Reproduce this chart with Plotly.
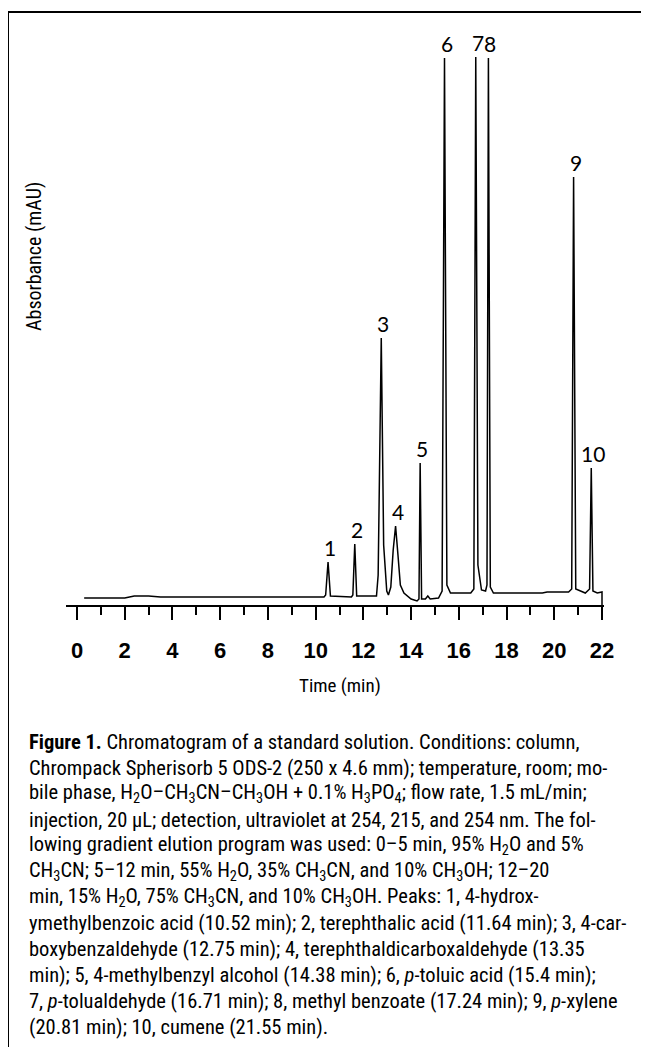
import plotly.graph_objects as go

# ---------------- data ----------------
# chromatogram trace: retention time (min) and detector signal (arbitrary mAU units)
time_min = [0.3, 2.0, 2.4, 3.0, 3.5, 6.0, 10.35,
            10.42, 10.52, 10.62, 11.5,
            11.56, 11.64, 11.72, 12.55,
            12.62, 12.75, 12.85, 12.98, 13.05,
            13.15, 13.25, 13.35, 13.45, 13.55, 13.7, 13.85, 14.0, 14.25,
            14.33, 14.38, 14.44, 14.6, 14.7, 14.8, 15.15,
            15.3, 15.4, 15.5, 15.65, 16.5,
            16.63, 16.71, 16.8, 16.95, 17.12,
            17.18, 17.24, 17.32, 17.45, 19.5, 19.7, 20.6,
            20.73, 20.81, 20.9, 21.3,
            21.48, 21.55, 21.62, 21.8, 22.0, 22.0]
absorbance = [7, 7, 9, 9, 8, 8, 8,
              10, 43, 9, 8,
              10, 61, 9, 9,
              30, 267, 60, 14, 10,
              18, 55, 79, 50, 20, 12, 9, 6, 4,
              6, 142, 6, 6, 9, 6, 7,
              14, 547, 20, 12, 12,
              16, 548, 40, 15, 14,
              20, 547, 18, 12, 12, 13, 13,
              16, 428, 16, 12,
              16, 137, 14, 12, 13, 0]

# peak labels
peak_labels = ["1", "2", "3", "4", "5", "6", "7", "8", "9", "10"]
peak_times = [10.52, 11.64, 12.75, 13.35, 14.38, 15.4, 16.71, 17.24, 20.81, 21.55]
peak_apex = [43, 61, 267, 79, 142, 547, 548, 547, 428, 137]

# axis ticks
tick_values = [0, 2, 4, 6, 8, 10, 12, 14, 16, 18, 20, 22]
tick_labels = [str(v) for v in tick_values]

x_title = "Time (min)"
y_title = "Absorbance (mAU)"

caption_lines = [
    "<b>Figure 1.</b> Chromatogram of a standard solution. Conditions: column,",
    "Chrompack Spherisorb 5 ODS-2 (250 x 4.6 mm); temperature, room; mo-",
    "bile phase, H<sub>2</sub>O–CH<sub>3</sub>CN–CH<sub>3</sub>OH + 0.1% H<sub>3</sub>PO<sub>4</sub>; flow rate, 1.5 mL/min;",
    "injection, 20 µL; detection, ultraviolet at 254, 215, and 254 nm. The fol-",
    "lowing gradient elution program was used: 0–5 min, 95% H<sub>2</sub>O and 5%",
    "CH<sub>3</sub>CN; 5–12 min, 55% H<sub>2</sub>O, 35% CH<sub>3</sub>CN, and 10% CH<sub>3</sub>OH; 12–20",
    "min, 15% H<sub>2</sub>O, 75% CH<sub>3</sub>CN, and 10% CH<sub>3</sub>OH. Peaks: 1, 4-hydrox-",
    "ymethylbenzoic acid (10.52 min); 2, terephthalic acid (11.64 min); 3, 4-car-",
    "boxybenzaldehyde (12.75 min); 4, terephthaldicarboxaldehyde (13.35",
    "min); 5, 4-methylbenzyl alcohol (14.38 min); 6, <i>p</i>-toluic acid (15.4 min);",
    "7, <i>p</i>-tolualdehyde (16.71 min); 8, methyl benzoate (17.24 min); 9, <i>p</i>-xylene",
    "(20.81 min); 10, cumene (21.55 min).",
]

# ---------------- layout geometry ----------------
# The page body has the browser's default 8 px margin, so the figure is drawn
# 8 px smaller and every screen position below is shifted by that offset.
OFF = 8
SCREEN_W, SCREEN_H = 649, 1047
W, H = SCREEN_W - OFF, SCREEN_H - OFF
PLOT_LEFT, PLOT_RIGHT, PLOT_TOP, AXIS_Y = 66, 604, 40, 605   # screen pixels
ML = PLOT_LEFT - OFF
MR = W - (PLOT_RIGHT - OFF)
MT = PLOT_TOP - OFF
MB = H - (AXIS_Y - OFF)
PW = PLOT_RIGHT - PLOT_LEFT
PH = AXIS_Y - PLOT_TOP
PX_PER_MIN = 525 / 22


def px(x, y):
    """screen pixel -> paper coordinates"""
    return (x - PLOT_LEFT) / PW, (AXIS_Y - y) / PH


TEXT_FONT = "Roboto Condensed, DejaVu Sans Condensed, Liberation Sans, sans-serif"
LABEL_FONT = "Lato, Open Sans, Liberation Sans, sans-serif"

fig = go.Figure()
fig.add_trace(go.Scatter(
    x=time_min, y=absorbance, mode="lines",
    line=dict(color="black", width=1.5), hoverinfo="skip", showlegend=False,
    cliponaxis=False,
))

annotations = []
for lab, t, a in zip(peak_labels, peak_times, peak_apex):
    annotations.append(dict(
        x=t, y=a, xref="x", yref="y", text=lab, showarrow=False,
        yanchor="middle", yshift=15, xshift=2,
        font=dict(family=LABEL_FONT, size=21, color="black"),
    ))

# axis titles
xx, yy = px(340, 685)
annotations.append(dict(x=xx, y=yy, xref="paper", yref="paper", text=x_title,
                        showarrow=False, xanchor="center", yanchor="middle",
                        font=dict(family=TEXT_FONT, size=19, color="black")))
xx, yy = px(34, 257)
annotations.append(dict(x=xx, y=yy, xref="paper", yref="paper", text=y_title,
                        showarrow=False, xanchor="center", yanchor="middle", textangle=-90,
                        font=dict(family=TEXT_FONT, size=20, color="black")))

# caption
first_y, step = 742, 25.9
for i, line in enumerate(caption_lines):
    xx, yy = px(28, first_y + i * step)
    annotations.append(dict(x=xx, y=yy, xref="paper", yref="paper", text=line,
                            showarrow=False, xanchor="left", yanchor="middle", align="left",
                            borderpad=0,
                            font=dict(family=TEXT_FONT, size=20.5, color="black")))

# frame lines (left and top)
fx, fy = px(8, 12)
shapes = [
    dict(type="line", xref="paper", yref="paper", x0=fx, x1=fx, y0=fy, y1=px(0, SCREEN_H + 5)[1],
         line=dict(color="black", width=2)),
    dict(type="line", xref="paper", yref="paper", x0=fx, x1=px(SCREEN_W + 5, 0)[0], y0=fy, y1=fy,
         line=dict(color="black", width=2)),
]

fig.update_layout(
    width=W, height=H,
    margin=dict(l=ML, r=MR, t=MT, b=MB, autoexpand=False),
    paper_bgcolor="white", plot_bgcolor="white",
    showlegend=False,
    annotations=annotations,
    shapes=shapes,
    xaxis=dict(
        range=[-(77 - PLOT_LEFT) / PX_PER_MIN, 22 + (PLOT_RIGHT - 602) / PX_PER_MIN],
        tickmode="array", tickvals=tick_values, ticktext=tick_labels,
        ticks="outside", ticklen=13, tickwidth=1.5, tickcolor="black",
        showline=True, linecolor="black", linewidth=1.5,
        showgrid=False, zeroline=False,
        ticklabelstandoff=12,
        tickfont=dict(family="Liberation Sans, Arial, sans-serif", size=22, color="black", weight="bold"),
        minor=dict(dtick=1, tick0=0, ticks="outside", ticklen=8, tickwidth=1.5, tickcolor="black", showgrid=False),
        automargin=False, fixedrange=True,
    ),
    yaxis=dict(range=[0, PH], visible=False, showgrid=False, zeroline=False, fixedrange=True),
)

fig.write_html("out.html")
